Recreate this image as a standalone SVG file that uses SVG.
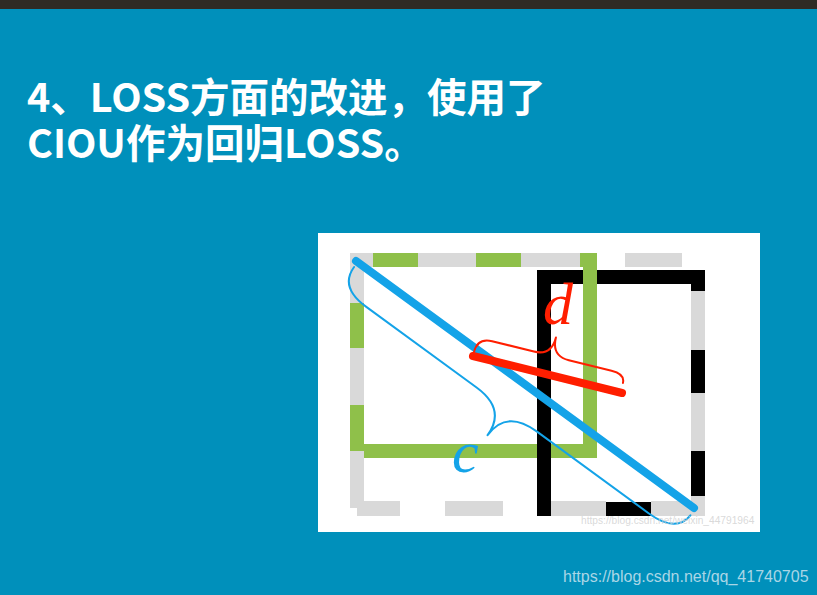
<svg xmlns="http://www.w3.org/2000/svg" width="817" height="595" viewBox="0 0 817 595">
  <style>
    .title { font-family: "Noto Sans CJK SC", "Noto Sans", sans-serif; font-weight: bold; font-size: 39.5px; fill: #ffffff; }
    .grey { fill: #d9d9d9; }
    .math { font-family: "Liberation Serif", "DejaVu Serif", serif; font-style: italic; font-size: 60px; }
    .brace { fill: none; stroke-width: 2; stroke-linecap: round; stroke-linejoin: round; }
  </style>
  <!-- slide background -->
  <rect x="0" y="0" width="817" height="595" fill="#0090bb"/>
  <rect x="0" y="0" width="817" height="9" fill="#2f2b24"/>

  <!-- title -->
  <g id="title">
    <text class="title" x="27" y="112">4、LOSS方面的改进，使用了</text>
    <text class="title" x="27" y="158">CIOU作为回归LOSS。</text>
  </g>

  <!-- figure panel -->
  <g id="figure">
    <rect x="318" y="233" width="442" height="299" fill="#ffffff"/>

    <!-- target box (black) -->
    <g id="target-box">
      <rect x="544" y="277" width="154" height="232" fill="none" stroke="#000000" stroke-width="14"/>
    </g>
    <!-- predicted box (green) -->
    <g id="pred-box">
      <rect x="357" y="260" width="233" height="191" fill="none" stroke="#8fc04a" stroke-width="14"/>
    </g>
    <!-- black left edge above green -->
    <line x1="544" y1="270" x2="544" y2="516" stroke="#000000" stroke-width="14"/>

    <!-- enclosing box (grey dashes) -->
    <g id="enclosing-box">
      <rect class="grey" x="350" y="253" width="23" height="14"/>
      <rect class="grey" x="418" y="253" width="58" height="14"/>
      <rect class="grey" x="521" y="253" width="59" height="14"/>
      <rect class="grey" x="625" y="253" width="57" height="14"/>
      <rect class="grey" x="350" y="253" width="14" height="50"/>
      <rect class="grey" x="350" y="348" width="14" height="57"/>
      <rect class="grey" x="350" y="451" width="14" height="57"/>
      <rect class="grey" x="357" y="501" width="43" height="15"/>
      <rect class="grey" x="445" y="501" width="58" height="15"/>
      <rect class="grey" x="551" y="501" width="55" height="15"/>
      <rect class="grey" x="651" y="501" width="54" height="15"/>
      <rect class="grey" x="691" y="291" width="14" height="59"/>
      <rect class="grey" x="691" y="393" width="14" height="58"/>
      <rect class="grey" x="691" y="496" width="14" height="20"/>
    </g>

    <!-- connectors: diagonal c and centre distance d with braces -->
    <g id="connectors">
      <line x1="356" y1="261" x2="694" y2="508" stroke="#14a3e8" stroke-width="8" stroke-linecap="round"/>
      <path class="brace" stroke="#14a3e8" transform="translate(356 261) rotate(36.16)"
            d="M2,6 Q2,31 35,31 L172,31 Q209,31 209,63 Q209,31 246,31 L385,31 Q419,31 420,8"/>
      <line x1="473" y1="356" x2="622" y2="393" stroke="#ff1e00" stroke-width="8" stroke-linecap="round"/>
      <path class="brace" stroke="#ff1e00" transform="translate(473 356) rotate(13.95)"
            d="M0,-4 Q0,-19 15,-19 L58,-19 Q76,-19 76,-38 Q76,-19 94,-19 L138,-19 Q152,-19 152,-10"/>
    </g>

    <g id="label-d">
      <text class="math" x="543" y="324" fill="#ff1e00">d</text>
    </g>
    <g id="label-c">
      <text class="math" x="452" y="472" fill="#14a3e8">c</text>
    </g>

    <text x="581" y="524" font-family="Liberation Sans, Arial, sans-serif" font-size="10.2" fill="#d0d0d0" fill-opacity="0.8">https://blog.csdn.net/weixin_44791964</text>
  </g>

  <!-- page watermark -->
  <text x="563" y="582" font-family="Liberation Sans, Arial, sans-serif" font-size="16" fill="#aad6e6">https://blog.csdn.net/qq_41740705</text>
</svg>
